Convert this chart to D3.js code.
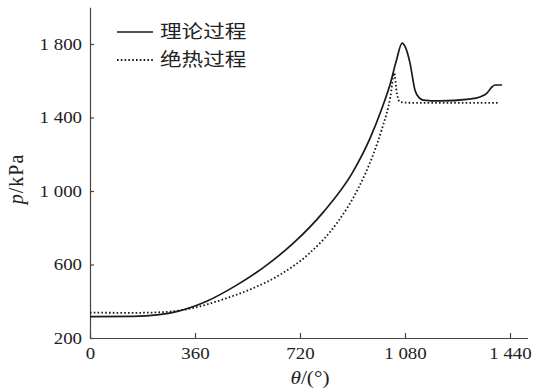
<!DOCTYPE html>
<html>
<head>
<meta charset="utf-8">
<script src="https://cdn.jsdelivr.net/npm/d3@7"></script>
<style>
  body { margin: 0; background: #fff; }
  svg { display: block; }
</style>
</head>
<body>
<svg width="538" height="392"></svg>
<script>
// crank angle (deg) / pressure (kPa)
var thetaTheory = [0, 150, 230, 300, 400, 500, 600, 700, 800, 900, 960, 1000, 1030, 1050, 1070, 1082, 1097, 1114, 1130, 1142, 1200, 1300, 1337, 1361, 1378, 1389, 1413];
var pTheory     = [316, 318, 326, 345, 400, 485, 590, 720, 885, 1100, 1286, 1446, 1587, 1707, 1805, 1780, 1697, 1550, 1505, 1495, 1490, 1500, 1512, 1533, 1566, 1577, 1577];

var thetaAdiab = [0, 150, 250, 350, 450, 550, 650, 750, 850, 920, 970, 1000, 1030, 1043, 1052, 1063, 1100, 1399];
var pAdiab     = [338, 337, 341, 362, 407, 465, 543, 658, 833, 1015, 1195, 1333, 1513, 1642, 1533, 1484, 1480, 1480];

var xTicks = [0, 360, 720, 1080, 1440];
var yTicks = [200, 600, 1000, 1400, 1800];
var seriesNames = ["理论过程", "绝热过程"];

var svg = d3.select("svg");
var sx = 1.18; // the original print is a little stretched sideways
var serif = "'Liberation Serif', 'Times New Roman', 'DejaVu Serif', serif";

var x = d3.scaleLinear().domain([0, 1500]).range([90, 527.5]);
var y = d3.scaleLinear().domain([200, 2000]).range([338, 7.25]);

function fmt(d) {
  if (d < 1000) return String(d);
  return Math.floor(d / 1000) + " " + String(d % 1000).padStart(3, "0");
}

// axes
var gx = svg.append("g")
    .attr("transform", "translate(0," + y(200) + ")")
    .call(d3.axisBottom(x).tickValues(xTicks).tickFormat(fmt).tickSizeInner(-5).tickSizeOuter(0));
gx.selectAll("text")
    .attr("y", null).attr("dy", null)
    .attr("transform", "translate(0,21) scale(" + sx + ",1)");

var gy = svg.append("g")
    .attr("transform", "translate(" + x(0) + ",0)")
    .call(d3.axisLeft(y).tickValues(yTicks).tickFormat(fmt).tickSizeInner(-4).tickSizeOuter(0));
gy.selectAll("text")
    .attr("x", null)
    .attr("transform", "translate(-8,0) scale(" + sx + ",1)");

svg.selectAll(".domain, .tick line").attr("stroke", "#444").attr("stroke-width", 1.2);
svg.selectAll(".tick text")
    .attr("fill", "#222")
    .style("font-family", serif)
    .style("font-size", "16px");

// curves
var line = d3.line()
    .x(function(d) { return x(d[0]); })
    .y(function(d) { return y(d[1]); })
    .curve(d3.curveMonotoneX);

svg.append("path")
    .datum(d3.zip(thetaTheory, pTheory))
    .attr("d", line)
    .attr("fill", "none")
    .attr("stroke", "#1a1a1a")
    .attr("stroke-width", 1.7);

svg.append("path")
    .datum(d3.zip(thetaAdiab, pAdiab))
    .attr("d", line)
    .attr("fill", "none")
    .attr("stroke", "#1a1a1a")
    .attr("stroke-width", 1.8)
    .attr("stroke-dasharray", "1.6,2.2");

// legend
var legend = svg.append("g").attr("transform", "translate(117,32)");
seriesNames.forEach(function(name, i) {
  var row = legend.append("g").attr("transform", "translate(0," + i * 28 + ")");
  row.append("line")
      .attr("x1", 0).attr("x2", 36)
      .attr("stroke", "#1a1a1a")
      .attr("stroke-width", i ? 1.8 : 1.7)
      .attr("stroke-dasharray", i ? "1.6,2.2" : null);
  row.append("text")
      .attr("transform", "translate(43,0) scale(1.2,1)")
      .attr("dy", "0.36em")
      .attr("fill", "#222")
      .style("font-family", "'Noto Sans CJK SC', sans-serif")
      .style("font-size", "18px")
      .text(name);
});

// axis titles
var ty = svg.append("text")
    .attr("transform", "translate(23,179) rotate(-90)")
    .attr("text-anchor", "middle")
    .attr("fill", "#222")
    .style("font-family", serif)
    .style("font-size", "20px")
    .style("letter-spacing", "1px");
ty.append("tspan").style("font-style", "italic").text("p");
ty.append("tspan").text("/kPa");

var tx = svg.append("text")
    .attr("transform", "translate(310,384) scale(" + sx + ",1)")
    .attr("text-anchor", "middle")
    .attr("fill", "#222")
    .style("font-family", serif)
    .style("font-size", "18px");
tx.append("tspan").style("font-style", "italic").text("θ");
tx.append("tspan").text("/(°)");
</script>
</body>
</html>
